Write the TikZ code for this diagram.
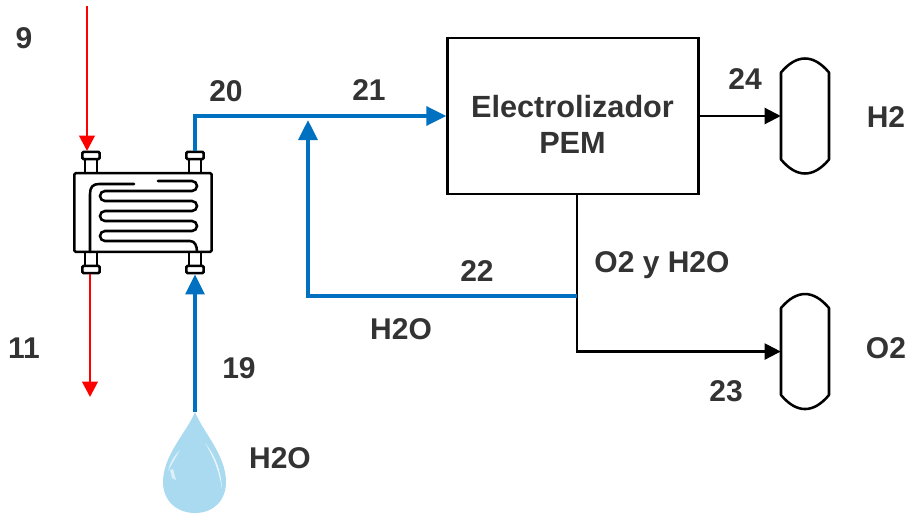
\documentclass[tikz,border=0pt]{standalone}
\usepackage{fontspec}
\setmainfont{Liberation Sans}
\usetikzlibrary{arrows.meta,positioning}
\definecolor{pipeblue}{HTML}{0070C0}
\definecolor{labelgray}{HTML}{333333}
\definecolor{dropblue}{HTML}{A9DAF0}
\tikzset{
    label text/.style={font=\fontsize{22.5}{26}\selectfont\bfseries,text=labelgray,inner sep=0pt,align=center},
    blue pipe/.style={draw=pipeblue,line width=3pt,-{Triangle[length=15pt,width=14pt]}},
    blue line/.style={draw=pipeblue,line width=3pt},
    red pipe/.style={draw=red,line width=2.1pt,-{Triangle[length=11.5pt,width=11.5pt]}},
    black pipe/.style={draw=black,line width=1.6pt,-{Triangle[length=12pt,width=12pt]}},
    black line/.style={draw=black,line width=1.6pt},
    unit/.style={draw=black,line width=1.9pt},
    flange/.style={draw=black,line width=1.9pt,fill=white,rounded corners=1pt,minimum width=13pt,minimum height=5.5pt,inner sep=0pt},
    tank/.style={minimum width=36pt,minimum height=86pt,inner sep=0pt},
}
\newcommand{\tankoutline}[1]{%
    \draw[unit,line join=round,shift={(#1.center)}] (-24,-43.5) .. controls (-16,-53) and (-8,-57.5) .. (0,-57.5)
        .. controls (8,-57.5) and (16,-53) .. (24,-43.5) -- (24,43.5)
        .. controls (16,53) and (8,57.5) .. (0,57.5) .. controls (-8,57.5) and (-16,53) .. (-24,43.5) -- cycle;}
\begin{document}
\begin{tikzpicture}[x=0.75pt,y=-0.75pt]
    \useasboundingbox (0,0) rectangle (908,514);
    % stems and body of the exchanger
    \draw[unit] (85,155) rectangle (97,173) (189,155) rectangle (201,173);
    \draw[unit] (85,252) rectangle (97,270) (189,252) rectangle (201,270);
    \node[draw=black,line width=1.9pt,rounded corners=1pt,minimum width=103pt,minimum height=59pt,inner sep=0pt] (hx) at (143,212.5) {};
    \node[flange] (hxa) at (91,155.5) {};
    \node[flange] (hxb) at (195,155.5) {};
    \node[flange] (hxc) at (91,269.5) {};
    \node[flange] (hxd) at (195,269.5) {};
    % coil
    \draw[unit,line cap=round] (90,252) -- (90,194) .. controls (90,187) and (93,184) .. (99,184) -- (134,184);
    \draw[unit,line cap=round] (158,181) -- (192,181) arc[start angle=-90,end angle=90,radius=5] -- (105,191)
        arc[start angle=-90,end angle=-270,radius=5] -- (192,201) arc[start angle=-90,end angle=90,radius=5] -- (105,211)
        arc[start angle=-90,end angle=-270,radius=5] -- (192,221) arc[start angle=-90,end angle=90,radius=5] -- (105,231)
        arc[start angle=-90,end angle=-270,radius=5] -- (190,241) .. controls (195,241) and (197,246) .. (197,252);

    \node[unit,minimum width=188pt,minimum height=117pt,inner sep=0pt] (pem) at (573,116) {};
    \node[label text,font=\fontsize{23}{26}\selectfont\bfseries] (pemname) at (572.5,124) {Electrolizador\\[1pt]PEM};
    \node[tank] (tankh) at (805,116) {};
    \node[tank,below=90.25pt of tankh] (tanko) {};
    \tankoutline{tankh}
    \tankoutline{tanko}

    % drop
    \coordinate (droptip) at (195,412);
    \fill[dropblue] (droptip) .. controls (187,432) and (163,455) .. (163,482)
        .. controls (163,501) and (177,513) .. (195,513) .. controls (213,513) and (226,501) .. (226,482)
        .. controls (226,455) and (203,432) .. (droptip);
    \fill[white,opacity=.75] (205,443) .. controls (215,455) and (221,470) .. (222,489) .. controls (219,470) and (213,456) .. (205,443);
    \fill[white,opacity=.6] (180,450) .. controls (174,456) and (170,462) .. (168,471) .. controls (172,464) and (176,457) .. (180,450);
    \fill[white,opacity=.6] (170,470) -- (173,469) -- (176,480) -- (172,478) -- cycle;

    % streams
    \coordinate (redin) at (87,6);
    \coordinate (redout) at (90,397);
    \draw[red pipe] (redin) -- (87,151);
    \draw[red pipe] (hxc.south -| redout) -- (redout);
    \draw[blue pipe] (droptip) -- (hxd.south);
    \draw[blue pipe] (hxb.north) |- (pem.west);
    \coordinate (split) at (577,296);
    \coordinate (mix) at (308,120);
    \draw[black line] (pem.south -| split) -- (split);
    \draw[black pipe] (split) |- (tanko.west);
    \draw[black pipe] (pem.east) -- (tankh.west);
    \draw[blue pipe] (split) -- (mix |- split) -- (mix);

    % labels
    \node[label text] (l9) at (24,38) {9};
    \node[label text] (l11) at (24,348) {11};
    \node[label text] (l19) at (239,368) {19};
    \node[label text] (l20) at (226,91) {20};
    \node[label text] (l21) at (369,90) {21};
    \node[label text] (l22) at (477,271) {22};
    \node[label text] (l23) at (726,391) {23};
    \node[label text] (l24) at (745,79) {24};
    \node[label text] (lwatera) at (280,458) {H2O};
    \node[label text] (lwaterb) at (401,329) {H2O};
    \node[label text] (lmix) at (662,265) {O2 y H2O};
    \node[label text] (lhyd) at (886,117) {H2};
    \node[label text] (loxy) at (886,348) {O2};
\end{tikzpicture}
\end{document}
